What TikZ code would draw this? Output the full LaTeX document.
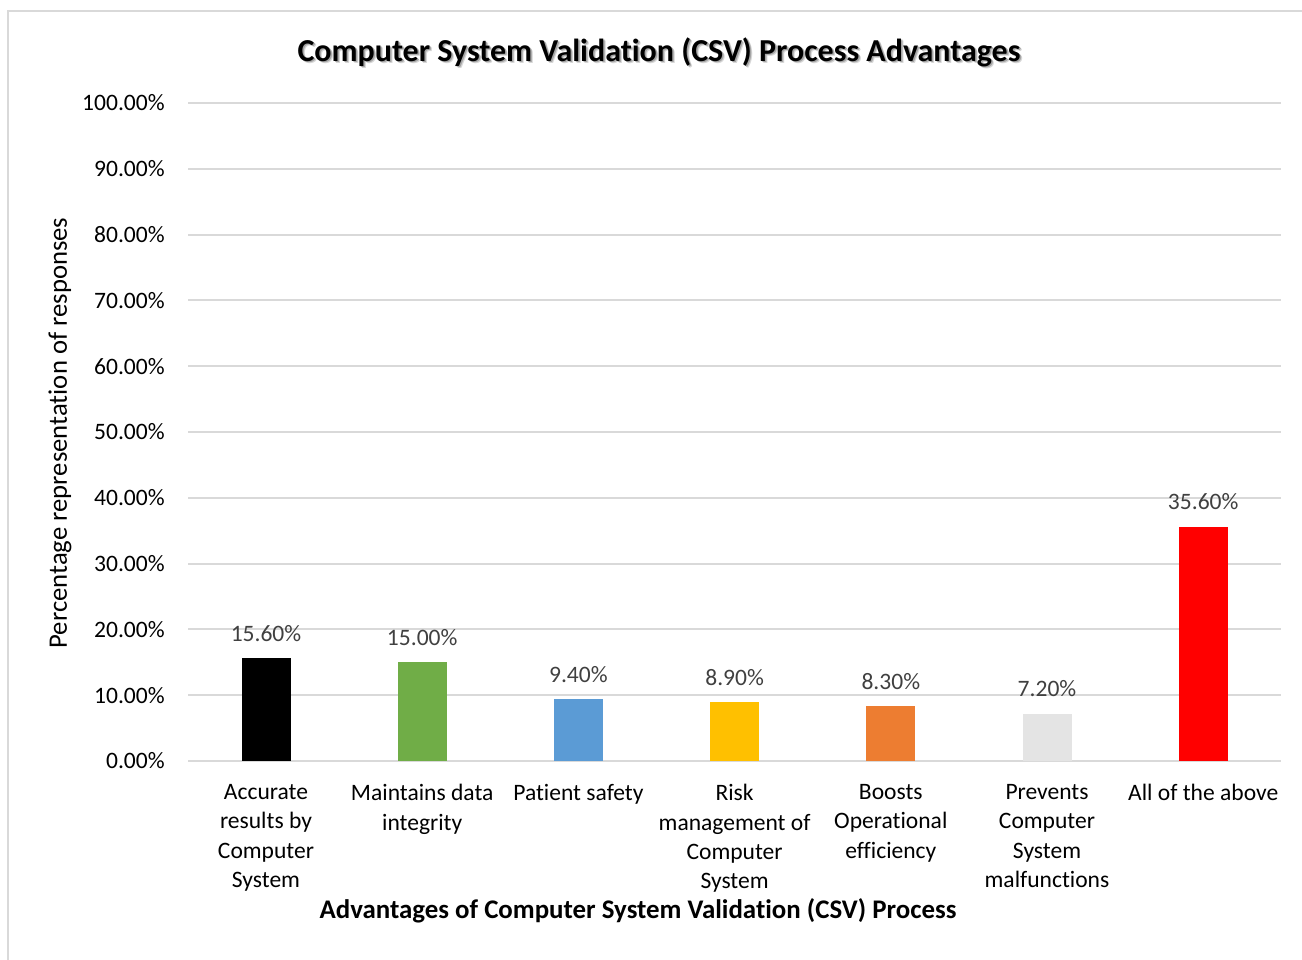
\documentclass[tikz,border=0pt]{standalone}
\usepackage{fontspec}
\setmainfont{Carlito}[Ligatures=NoCommon]

\definecolor{gridgray}{HTML}{D9D9D9}
\definecolor{labelgray}{HTML}{404040}
\definecolor{barblack}{HTML}{000000}
\definecolor{bargreen}{HTML}{70AD47}
\definecolor{barblue}{HTML}{5B9BD5}
\definecolor{bargold}{HTML}{FFC000}
\definecolor{barorange}{HTML}{ED7D31}
\definecolor{barlight}{HTML}{E4E4E4}
\definecolor{barred}{HTML}{FF0000}

\newcommand{\chartfont}{\fontsize{13.4}{16.7}\selectfont}
\newcommand{\titlefont}{\fontsize{18.2}{21}\selectfont\bfseries}

\tikzset{
  gridline/.style={gridgray, line width=1.1pt},
  ticklabel/.style={anchor=east, inner sep=0pt, font=\chartfont},
  vallabel/.style={inner sep=0pt, text=labelgray, font=\chartfont},
  catlabel/.style={anchor=north, inner sep=0pt, align=center, font=\chartfont},
  axistitle/.style={inner sep=0pt, font=\fontsize{15.3}{18}\selectfont\bfseries}
}

\begin{document}
\begin{tikzpicture}[x=0.02cm, y=-0.02cm]
    \useasboundingbox (0,0) rectangle (1302,960);

    % Chart frame
    \draw[gridgray, line width=0.9pt] (8,960) -- (8,11) -- (1302,11);

    % Title with its soft shadow
    \node[inner sep=0pt, font=\titlefont, text=black!45, opacity=0.35] at (661.5,54.5) {Computer System Validation (CSV) Process Advantages};
    \node[inner sep=0pt, font=\titlefont, text=black!55, opacity=0.5] at (660.5,53.5) {Computer System Validation (CSV) Process Advantages};
    \node[inner sep=0pt, font=\titlefont] (title) at (659,52) {Computer System Validation (CSV) Process Advantages};

    % Gridlines and tick labels
    \foreach \t in {0,...,10} {
        \draw[gridline] (188,761-65.8*\t) -- (1281,761-65.8*\t);
        \pgfmathtruncatemacro{\pc}{10*\t}
        \node[ticklabel] (tick\t) at (165,761-65.8*\t) {\pc.00\%};
    }

    % Bars
    \foreach \i/\v/\c/\txt in {0/15.6/barblack/15.60,
                               1/15.0/bargreen/15.00,
                               2/9.4/barblue/9.40,
                               3/8.9/bargold/8.90,
                               4/8.3/barorange/8.30,
                               5/7.2/barlight/7.20,
                               6/35.6/barred/35.60} {
        \fill[\c] (266+156.2*\i-24.5,761) rectangle (266+156.2*\i+24.5,761-6.58*\v);
        \node[vallabel] (val\i) at (266+156.2*\i,761-6.58*\v-25) {\txt\%};
    }

    % Category labels
    \node[catlabel] (cat0) at (266,784) {Accurate\\results by\\Computer\\System};
    \node[catlabel] (cat1) at (422.2,784) {Maintains data\\integrity};
    \node[catlabel] (cat2) at (578.4,784) {Patient safety};
    \node[catlabel] (cat3) at (734.6,784) {Risk\\management of\\Computer\\System};
    \node[catlabel] (cat4) at (890.8,784) {Boosts\\Operational\\efficiency};
    \node[catlabel] (cat5) at (1047,784) {Prevents\\Computer\\System\\malfunctions};
    \node[catlabel] (cat6) at (1203.2,784) {All of the above};

    % Axis titles
    \node[axistitle] (xtitle) at (638,911) {Advantages of Computer System Validation (CSV) Process};
    \node[axistitle, font=\fontsize{15.2}{18}\selectfont, rotate=90] (ytitle) at (60,433) {Percentage representation of responses};
\end{tikzpicture}
\end{document}
